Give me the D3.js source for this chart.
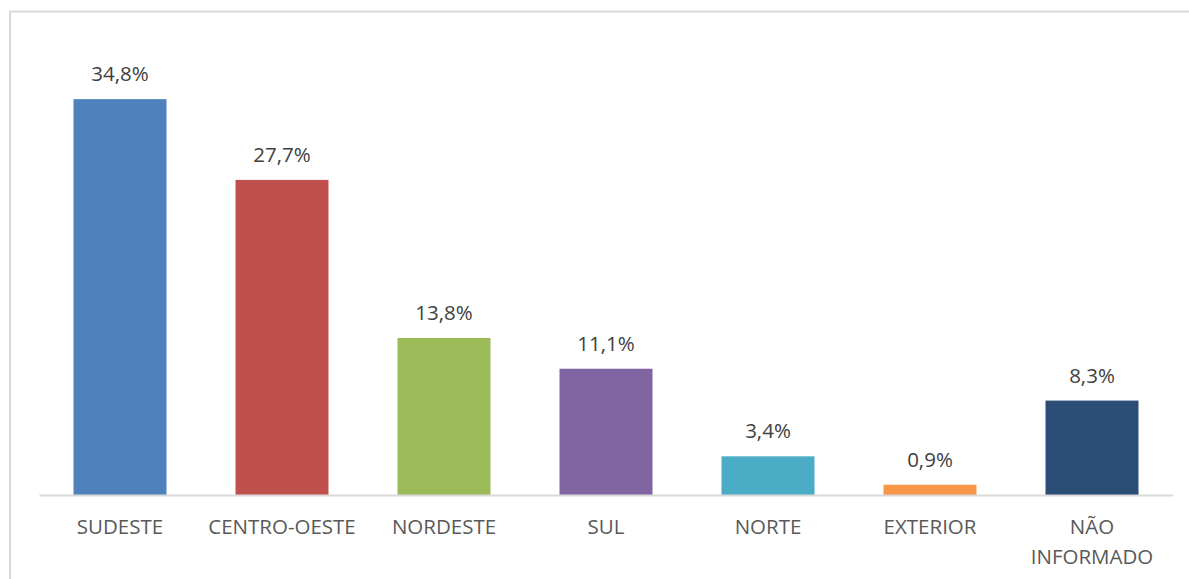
<!DOCTYPE html>
<html><head><meta charset="utf-8">
<script src="https://cdn.jsdelivr.net/npm/d3@7"></script>
<style>body{margin:0;background:#fff;} svg{display:block;}</style>
</head><body>
<svg id="c" width="1189" height="579"></svg>
<script>
const categories = ["SUDESTE","CENTRO-OESTE","NORDESTE","SUL","NORTE","EXTERIOR","NÃO INFORMADO"];
const values = [34.8, 27.7, 13.8, 11.1, 3.4, 0.9, 8.3];
const labels = ["34,8%","27,7%","13,8%","11,1%","3,4%","0,9%","8,3%"];
const colors = ["#4f81bd","#c0504d","#9bbb59","#8064a2","#4bacc6","#f79646","#2c4d75"];

const svg = d3.select("#c");
const font = "'Open Sans', sans-serif";
// frame (top + left edges visible)
svg.append("rect").attr("x",10).attr("y",11.5).attr("width",1300).attr("height",700)
  .attr("fill","none").attr("stroke","#d9d9d9").attr("stroke-width",2);

const x = d3.scaleBand().domain(categories).range([39,1173]).paddingInner(0.426).paddingOuter(0.213);
const y = d3.scaleLinear().domain([0,40]).range([495,40]);

svg.selectAll("rect.bar").data(values).join("rect").attr("class","bar")
  .attr("x",(d,i)=>x(categories[i])).attr("width",x.bandwidth())
  .attr("y",d=>y(d)).attr("height",d=>y(0)-y(d)).attr("fill",(d,i)=>colors[i]);

svg.selectAll("text.val").data(values).join("text").attr("class","val")
  .attr("x",(d,i)=>x(categories[i])+x.bandwidth()/2).attr("y",d=>y(d)-18)
  .attr("text-anchor","middle").attr("font-family",font).attr("font-size",20.5)
  .attr("fill","#404040").text((d,i)=>labels[i]);

const axis = d3.axisBottom(x).tickSize(0).tickPadding(0);
const g = svg.append("g").attr("transform","translate(0,495)").call(axis);
g.select(".domain").attr("stroke","#d9d9d9").attr("stroke-width",2);
g.selectAll(".tick text").remove();
g.selectAll(".tick").each(function(d){
  const words = d === "NÃO INFORMADO" ? ["NÃO","INFORMADO"] : [d];
  const t = d3.select(this).append("text").attr("fill","#595959")
    .attr("font-family",font).attr("font-size",20.5).attr("text-anchor","middle");
  words.forEach((w,i)=>t.append("tspan").attr("x",0).attr("y",39+i*30).text(w));
});
</script>
</body></html>
